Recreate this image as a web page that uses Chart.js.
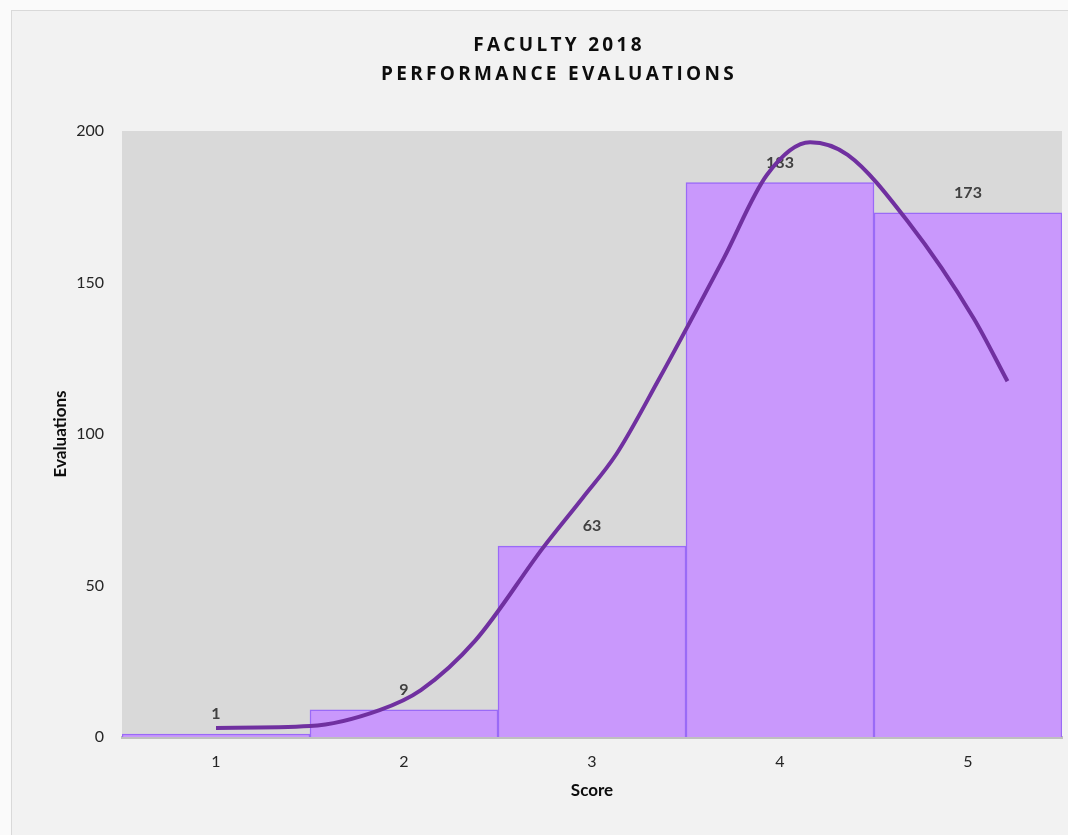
<!DOCTYPE html>
<html>
<head>
<meta charset="utf-8">
<script src="https://cdn.jsdelivr.net/npm/chart.js@4.4.1/dist/chart.umd.min.js"></script>
<style>
  html, body { margin: 0; padding: 0; width: 1068px; height: 835px; overflow: hidden; background: #fafafa; }
  #frame { position: absolute; left: 11px; top: 10px; width: 1098px; height: 830px;
           border: 1px solid #d9d9d9; background: #f2f2f2; }
  #c { position: absolute; left: 0; top: 0; }
</style>
</head>
<body>
<div id="frame"><canvas id="c" width="1098" height="824"></canvas></div>
<script>
// Score categories and the number of evaluations in each
const scores = ['1', '2', '3', '4', '5'];
const evaluations = [1, 9, 63, 183, 173];
const yTicks = [0, 50, 100, 150, 200];

// Smoothed trend over the histogram (score position, evaluations)
const trendX = [1.0, 1.5, 1.87, 2.09, 2.38, 2.74, 2.95, 3.13, 3.35, 3.7, 3.93, 4.16, 4.36, 4.68, 5.03, 5.21];
const trendY = [3.0, 3.6, 8.9, 15.5, 31.9, 62.5, 78.9, 93.4, 117.4, 157.9, 185.5, 196.3, 192.1, 170.1, 138.2, 117.4];

const titleLines = ['FACULTY 2018', 'PERFORMANCE EVALUATIONS'];

const axisFont = { family: 'Lato, "Open Sans", sans-serif', size: 16 };
const axisTitleFont = { family: 'Lato, "Open Sans", sans-serif', size: 17, weight: 'bold', lineHeight: 1.2 };

// Gray plot background
const plotBackground = {
  id: 'plotBackground',
  beforeDraw(chart) {
    const { ctx, chartArea: a } = chart;
    ctx.save();
    ctx.fillStyle = '#d9d9d9';
    ctx.fillRect(a.left, a.top, a.right - a.left, a.bottom - a.top);
    ctx.restore();
  }
};

// Value labels above each bar, drawn before the trend line
const barValueLabels = {
  id: 'barValueLabels',
  afterDatasetDraw(chart, args) {
    if (args.meta.type !== 'bar') return;
    const ctx = chart.ctx;
    ctx.save();
    ctx.font = 'bold 16px Lato, "Open Sans", sans-serif';
    ctx.fillStyle = '#404040';
    ctx.textAlign = 'center';
    ctx.textBaseline = 'middle';
    args.meta.data.forEach((bar, i) => {
      ctx.fillText(String(evaluations[i]), bar.x, bar.y - 20);
    });
    ctx.restore();
  }
};

// Spaced-out lettering for the chart title, centred on the full frame
const spacedTitle = {
  id: 'spacedTitle',
  afterLayout(chart) {
    const block = chart.titleBlock;
    if (!block || block._spaced) return;
    const draw = block.draw.bind(block);
    block.draw = function (area) {
      const ctx = chart.ctx;
      ctx.save();
      ctx.translate(22, 0);
      ctx.letterSpacing = '3.3px';
      draw(area);
      ctx.restore();
    };
    block._spaced = true;
  }
};

new Chart(document.getElementById('c'), {
  type: 'bar',
  data: {
    labels: scores,
    datasets: [
      {
        type: 'line',
        label: 'Trend',
        xAxisID: 'xTrend',
        data: trendX.map((x, i) => ({ x: x, y: trendY[i] })),
        borderColor: '#7030a0',
        borderWidth: 4,
        pointRadius: 0,
        cubicInterpolationMode: 'monotone',
        fill: false,
        order: 0
      },
      {
        type: 'bar',
        label: 'Evaluations',
        data: evaluations,
        backgroundColor: '#c998fc',
        borderColor: '#9a6af7',
        borderWidth: 1.5,
        barPercentage: 1,
        categoryPercentage: 1,
        grouped: false,
        order: 1
      }
    ]
  },
  options: {
    responsive: false,
    animation: false,
    layout: { padding: { left: 0, right: 48, top: 0, bottom: 0 } },
    plugins: {
      legend: { display: false },
      tooltip: { enabled: false },
      title: {
        display: true,
        text: titleLines,
        color: '#0d0d0d',
        font: { family: '"Open Sans", sans-serif', size: 19, weight: 'bold', lineHeight: 29 / 19 },
        padding: { top: 20, bottom: 42 }
      }
    },
    scales: {
      x: {
        type: 'category',
        offset: true,
        grid: { display: false, drawTicks: false },
        border: { display: true, color: '#bfbfbf', width: 3 },
        ticks: { color: '#262626', font: axisFont, padding: 15 },
        title: { display: true, text: 'Score', color: '#0d0d0d', font: axisTitleFont, padding: { top: 0, bottom: 34 } },
        afterFit(scale) { scale.height = 98; }
      },
      xTrend: {
        type: 'linear',
        display: false,
        offset: false,
        min: 0.5,
        max: 5.5
      },
      y: {
        min: 0,
        max: 200,
        grid: { display: false, drawTicks: false },
        border: { display: false },
        afterBuildTicks(scale) { scale.ticks = yTicks.map(v => ({ value: v })); },
        ticks: { color: '#262626', font: axisFont, padding: 18 },
        title: { display: true, text: 'Evaluations', color: '#0d0d0d', font: axisTitleFont, padding: { top: 38, bottom: 0 } },
        afterFit(scale) { scale.width = 110; }
      }
    }
  },
  plugins: [plotBackground, barValueLabels, spacedTitle]
});
</script>
</body>
</html>
